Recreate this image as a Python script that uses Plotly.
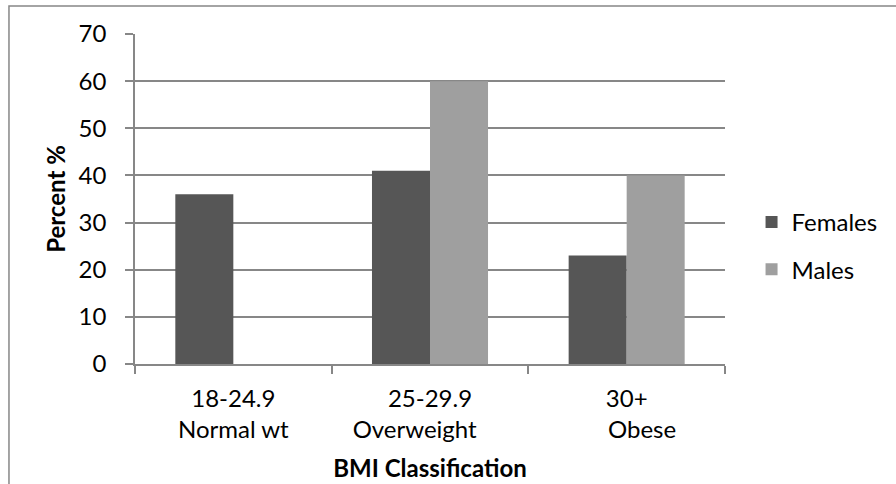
import plotly.graph_objects as go

# BMI classes and their two-line labels
categories = ["Normal", "Overweight", "Obese"]
tick_labels = [
    "18-24.9<br>Normal wt",
    "25-29.9<br>Overweight&nbsp;&nbsp;&nbsp;&nbsp;&nbsp;",
    "30+<br>&nbsp;&nbsp;&nbsp;&nbsp;&nbsp;Obese",
]
females = [36, 41, 23]
males = [None, 60, 40]
y_ticks = [0, 10, 20, 30, 40, 50, 60, 70]

FONT = "Lato, Carlito, Calibri, sans-serif"
FS = 24
GRID = "#878787"

fig = go.Figure()
fig.add_trace(go.Bar(
    name="Females", x=categories, y=females,
    marker=dict(color="#565656", line=dict(width=0)),
    legendgroup="f",
))
fig.add_trace(go.Bar(
    name="Males", x=categories, y=males,
    marker=dict(color="#9f9f9f", line=dict(width=0)),
    legendgroup="m",
))

fig.update_layout(
    width=896, height=484,
    margin=dict(l=135, r=171, t=34, b=120, autoexpand=False),
    paper_bgcolor="white", plot_bgcolor="white",
    font=dict(family=FONT, size=FS, color="black"),
    barmode="group", bargap=0.41, bargroupgap=0,
    legend=dict(
        x=1.045, y=0.358, xanchor="left", yanchor="middle",
        font=dict(size=FS), tracegroupgap=13, bgcolor="rgba(0,0,0,0)",
    ),
    showlegend=True,
)

fig.update_xaxes(
    type="category", tickvals=categories, ticktext=tick_labels,
    automargin=False,
    showline=True, linecolor=GRID, linewidth=1.5,
    ticks="outside", tickson="boundaries", ticklen=8, tickcolor=GRID, tickwidth=1.5,
    showgrid=False,
    title=dict(text="<b>BMI Classification</b>", font=dict(size=FS), standoff=18),
    ticklabelstandoff=12,
)
fig.update_yaxes(
    range=[0, 70], tickvals=y_ticks,
    automargin=False,
    showline=True, linecolor=GRID, linewidth=1.5,
    ticks="outside", ticklen=8, tickcolor=GRID, tickwidth=1.5,
    showgrid=True, gridcolor=GRID, gridwidth=1.5,
    zeroline=False,
    title=dict(text="<b>Percent %</b>", font=dict(size=FS), standoff=6),
    ticklabelstandoff=14,
)

# chart-area border (left and top edges fall inside the page)
fig.add_shape(
    type="rect", xref="paper", yref="paper",
    x0=-0.2136, x1=1.5, y0=-0.5, y1=1.0848,
    line=dict(color=GRID, width=1.5), fillcolor="rgba(0,0,0,0)", layer="below",
)

fig.write_html("out.html")
